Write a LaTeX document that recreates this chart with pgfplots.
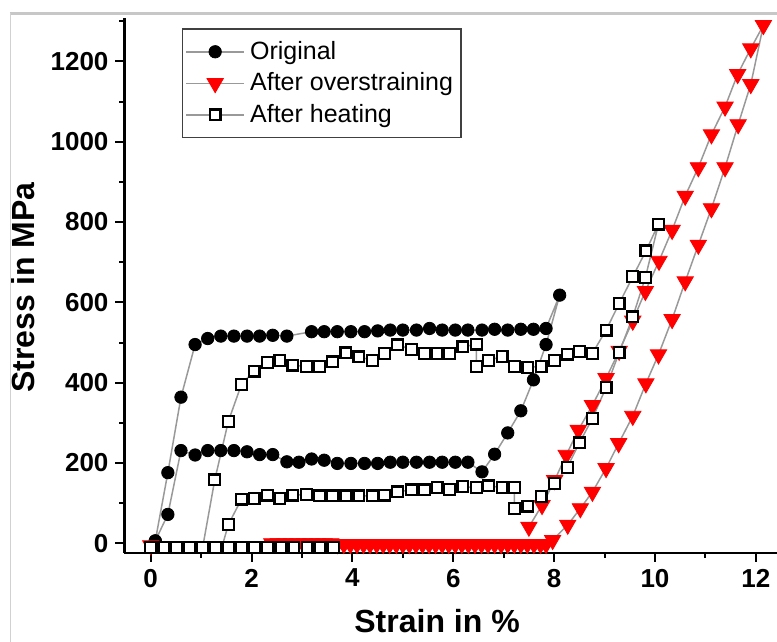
\documentclass[border=0pt]{standalone}
\usepackage{pgfplots}
\pgfplotsset{compat=1.18}
\usepackage{fontspec}
\setmainfont{Liberation Sans}

\begin{document}
\begin{tikzpicture}
\begin{axis}[
    at={(0,0)}, anchor=south west,
    scale only axis, width=326.25pt, height=267.5pt,
    xmin=-0.52, xmax=12.42, ymin=-24, ymax=1308,
    clip=false,
    axis x line=bottom, axis y line=left,
    axis line style={-, line width=1.3pt},
    xtick={0,2,...,12}, ytick={0,200,...,1200},
    minor xtick={1,3,...,11}, minor ytick={100,300,...,1300},
    tick align=outside, major tick length=4.5pt, minor tick length=2.5pt,
    tick style={black, line width=1pt},
    ticklabel style={font=\fontsize{13}{15}\selectfont\bfseries},
    /pgf/number format/assume math mode=true,
    /pgf/number format/1000 sep={},
    xlabel={Strain in \%}, ylabel={Stress in MPa},
    every axis x label/.style={at={(axis description cs:0.479,-0.127)}, anchor=center,
        font=\fontsize{16}{19}\selectfont\bfseries},
    every axis y label/.style={at={(axis description cs:-0.156,0.496)}, anchor=center,
        rotate=90, font=\fontsize{16}{19}\selectfont\bfseries},
    legend style={at={(axis description cs:0.0877,0.9807)}, anchor=north west,
        draw=black!75, line width=0.7pt, inner xsep=1.5pt, inner ysep=3.5pt,
        font=\fontsize{12.5}{15}\selectfont, cells={anchor=west},
        nodes={inner sep=2.6pt}},
    legend image code/.code={\draw[mark repeat=2,mark phase=2,#1]
        plot coordinates {(0pt,0pt) (14.5pt,0pt) (29pt,0pt)};},
]

% original
\addplot[color=black!40, line width=0.75pt, mark=*, mark size=3.1pt,
    mark options={solid, fill=black, draw=black, line width=0.4pt}]
    coordinates {
    (0.09,6)(0.34,176)(0.60,364)(0.88,495)(1.13,510)(1.39,516)(1.65,516)(1.91,516)
    (2.16,516)(2.42,518)(2.70,516)(3.19,527)(3.44,527)(3.70,527)(3.97,527)(4.24,527)
    (4.50,529)(4.75,531)(5.00,531)(5.27,531)(5.53,535)(5.78,531)(6.04,531)(6.29,531)
    (6.57,531)(6.82,533)(7.08,531)(7.34,533)(7.59,533)(7.84,535)(8.11,618)
    (7.84,495)(7.59,407)(7.34,330)(7.08,275)(6.82,222)(6.57,178)
    (6.29,202)(6.04,202)(5.78,202)(5.53,202)(5.27,202)(5.00,202)(4.75,202)(4.50,199)
    (4.24,199)(3.97,199)(3.70,199)(3.44,207)(3.19,210)(2.94,202)(2.70,203)(2.42,221)
    (2.16,221)(1.91,228)(1.65,231)(1.39,231)(1.13,231)(0.88,220)(0.60,231)(0.34,72)(0.09,6)
    };
\addlegendentry{Original}

% after overstraining
\addplot[color=black!40, line width=0.75pt, mark=triangle*, mark size=4.7pt,
    mark options={solid, rotate=180, fill=red, draw=red, line width=0.4pt}]
    coordinates {
    (0,-5)
    (2.40,0)(2.53,0)(2.66,0)(2.79,0)(2.92,0)(3.05,0)(3.18,0)(3.31,0)(3.44,0)(3.57,0)
    (3.70,-2)(3.83,-2)(3.96,-2)(4.09,-2)(4.22,-2)(4.35,-2)(4.48,-2)(4.61,-2)(4.74,-2)
    (4.87,-2)(5.00,-2)(5.13,-2)(5.26,-2)(5.39,-2)(5.52,-2)(5.65,-2)(5.78,-2)(5.91,-2)
    (6.04,-2)(6.17,-2)(6.30,-2)(6.43,-2)(6.56,-2)(6.69,-2)(6.82,-2)(6.95,-2)(7.08,-2)
    (7.21,-2)(7.34,-2)(7.47,-2)(7.60,-2)(7.73,-2)(7.84,-2)
    (7.97,8)(8.27,46)(8.52,87)(8.76,128)(9.03,187)(9.28,249)(9.56,317)(9.82,398)
    (10.07,470)(10.34,558)(10.60,652)(10.86,743)(11.12,834)(11.39,936)(11.65,1043)
    (11.90,1143)(12.15,1290)
    (11.90,1232)(11.64,1168)(11.39,1087)(11.12,1018)(10.86,936)(10.60,865)(10.34,780)
    (10.08,703)(9.81,628)(9.56,554)(9.29,479)(9.03,411)(8.76,344)(8.48,282)(8.24,220)
    (8.01,157)(7.76,95)(7.50,41)
    };
\addlegendentry{After overstraining}

% after heating
\addplot[color=black!40, line width=0.75pt, forget plot] coordinates {(1.03,-10)(1.27,158)};
\addplot[color=black!40, line width=0.75pt, forget plot] coordinates {(1.54,47)(1.41,-10)};
\addplot[color=black!40, line width=0.75pt, mark=square*, mark size=2.7pt, forget plot,
    mark options={solid, fill=white, draw=black, line width=1.1pt}]
    coordinates {
    (0,-10)(0.26,-10)(0.51,-10)(0.77,-10)(1.03,-10)(1.29,-10)(1.54,-10)(1.80,-10)
    (2.06,-10)(2.32,-10)(2.58,-10)(2.84,-10)(3.10,-10)(3.36,-10)(3.62,-10)
    };
\addplot[color=black!40, line width=0.75pt, mark=square*, mark size=2.7pt,
    mark options={solid, fill=white, draw=black, line width=1.1pt}]
    coordinates {
    (1.27,158)(1.54,304)(1.80,396)(2.05,429)(2.32,451)(2.56,455)(2.82,444)(3.09,440)
    (3.35,440)(3.60,452)(3.87,474)(4.13,464)(4.40,456)(4.64,473)(4.89,494)(5.17,483)
    (5.43,473)(5.68,473)(5.93,473)(6.19,489)(6.46,496)(6.46,440)(6.70,456)(6.97,465)
    (7.21,441)(7.48,438)(7.74,441)(8.01,455)(8.26,471)(8.50,477)(8.76,473)(9.03,531)
    (9.29,597)(9.56,664)(9.82,728)(10.07,795)
    (9.81,662)(9.56,564)(9.29,475)(9.03,388)(8.76,311)(8.50,250)(8.26,189)(8.01,149)
    (7.74,116)(7.48,93)(7.21,87)
    (7.21,139)(6.97,139)(6.70,143)(6.46,139)(6.19,141)(5.93,134)(5.68,139)(5.43,133)
    (5.17,133)(4.89,128)(4.64,120)(4.40,118)(4.13,118)(3.87,118)(3.60,118)(3.35,118)
    (3.09,122)(2.82,120)(2.56,112)(2.32,120)(2.05,112)(1.80,110)(1.54,47)
    };
\addlegendentry{After heating}
\end{axis}
\pgfresetboundingbox
\path[use as bounding box] (-62.25pt,-44.5pt) rectangle (326.25pt,276.5pt);
\draw[black!22, line width=1.25pt] (-57.25pt,269.75pt) -- (326.25pt,269.75pt);
\draw[black!18, line width=0.5pt] (-57pt,269.75pt) -- (-57pt,-44.5pt);
\end{tikzpicture}
\end{document}
